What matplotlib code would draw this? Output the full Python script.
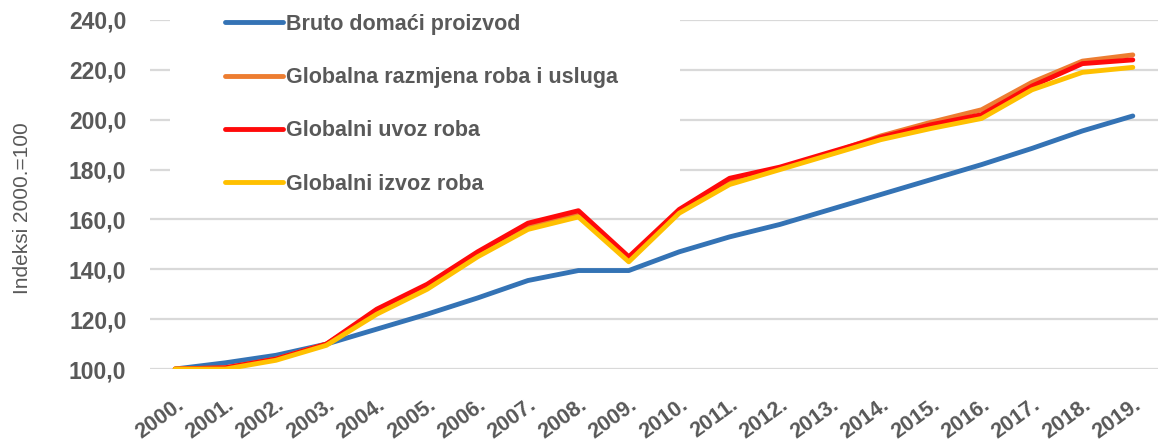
import matplotlib.pyplot as plt
from matplotlib.patches import Rectangle

years = ["2000.", "2001.", "2002.", "2003.", "2004.", "2005.", "2006.", "2007.", "2008.", "2009.",
         "2010.", "2011.", "2012.", "2013.", "2014.", "2015.", "2016.", "2017.", "2018.", "2019."]

bdp = [100, 102.5, 105.5, 110, 116, 122, 128.5, 135.5, 139.5, 139.5,
       147, 153, 158, 164, 170, 176, 182, 188.5, 195.5, 201.5]
razmjena = [100, 100.5, 104, 110, 123, 133, 146, 157.5, 162, 144,
            163, 175.5, 180.5, 186.5, 193.5, 199, 204, 215, 223.5, 226]
uvoz = [100, 100.5, 104, 110, 124, 134, 147, 158.5, 163.5, 145,
        164, 176.5, 181, 187, 193, 198, 202, 213.5, 222.5, 224]
izvoz = [100, 100, 103.5, 109.5, 122, 132, 145, 156, 161, 143,
         162.5, 174, 180, 186, 192, 196.5, 200.5, 212, 219, 221]

labels = ["Bruto domaći proizvod", "Globalna razmjena roba i usluga",
          "Globalni uvoz roba", "Globalni izvoz roba"]
colors = ["#3473b5", "#ed7d31", "#ff0a0a", "#ffc000"]

plt.rcParams['font.family'] = ['Liberation Sans', 'DejaVu Sans']
txt = "#595959"

fig = plt.figure(figsize=(11.58, 4.48), dpi=100)
ax = fig.add_axes([150 / 1158, 1 - 369 / 448, 1 - 150 / 1158, (369 - 20) / 448])

x = list(range(len(years)))
for vals, lab, c in zip([bdp, razmjena, uvoz, izvoz], labels, colors):
    ax.plot(x, vals, color=c, lw=3.5, label=lab, solid_capstyle='round', zorder=3)

ax.set_xlim(-0.5, 19.5)
ax.set_ylim(100, 240)
ax.set_yticks([100, 120, 140, 160, 180, 200, 220, 240])
ax.set_yticklabels([f"{v:.1f}".replace(".", ",") for v in range(100, 241, 20)],
                   fontweight='bold')
ax.set_xticks(x)
ax.set_xticklabels(years, rotation=36, ha='right', va='top', rotation_mode='anchor',
                   fontweight='bold')
ax.tick_params(axis='y', length=0, pad=17, labelsize=16.5, labelcolor=txt)
ax.tick_params(axis='x', length=0, pad=18, labelsize=15.5, labelcolor=txt)
ax.grid(axis='y', color='#d9d9d9', lw=1.6)
ax.set_axisbelow(True)
for s in ax.spines.values():
    s.set_visible(False)
ax.set_ylabel("Indeksi 2000.=100", fontsize=15, color=txt)
ax.yaxis.set_label_coords(-118 / 1008, 0.46)

# white backdrop behind the legend, hides the grid there
ax.add_patch(Rectangle((170 / 1158, 1 - 192 / 448), 510 / 1158, 192 / 448,
                       transform=fig.transFigure, facecolor='white', edgecolor='none',
                       zorder=1, clip_on=False))

leg = ax.legend(loc='upper left', bbox_to_anchor=(214 / 1158, 1 - 3 / 448),
                bbox_transform=fig.transFigure, frameon=False,
                prop={'size': 15.5, 'weight': 'bold'},
                handlelength=2.7, handletextpad=0.15, labelspacing=1.5, borderpad=0)
for t in leg.get_texts():
    t.set_color(txt)

fig.savefig("out.png", dpi=100)
